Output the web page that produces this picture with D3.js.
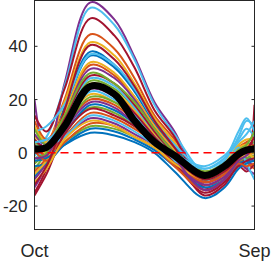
<!DOCTYPE html>
<html>
<head>
<meta charset="utf-8">
<script src="https://cdn.jsdelivr.net/npm/d3@7"></script>
<style>
  body { margin: 0; background: #fff; }
  svg { display: block; }
  text { font-family: "Liberation Sans", Arial, sans-serif; fill: #262626; }
</style>
</head>
<body>
<div id="chart"></div>
<script>
// month positions (0 = Oct ... 11 = Sep) where each curve is sampled
const knots = [0, 0.6, 1.5, 2.8, 4, 5, 6, 7, 8.5, 9.5, 10.2, 10.6, 11];

const xTickValues = [0, 11];
const xTickLabels = ["Oct", "Sep"];
const yTickValues = [-20, 0, 20, 40];

const palette = ["#0072BD", "#D95319", "#EDB120", "#7E2F8E", "#77AC30", "#4DBEEE", "#A2142F"];

// individual years
const series = [
  [3, 1, 17, 38, 33, 24, 12, 3, -9, -5, 1, 3, 4],
  [-4, 2, 20, 44.5, 39, 28, 14, 5, -11, -7, 0, 2, 3],
  [6, 4, 19, 41.5, 36.5, 26, 13, 4, -10, -6, 1, 2, 1],
  [20, -3, 26, 56.5, 50, 36, 19, 8, -12, -9, -3, -1, 0],
  [-6, 0, 12, 27, 24, 17, 8, 0, -8, -4, 2, 3, 4],
  [2, 6, 25, 54.5, 48, 35, 18, 7, -7, -3, 6, 12, 10],
  [14, 8, 24, 50.5, 44, 32, 16, 6, -13, -10, -2, -6, 18],
  [-9, -3, 15, 36.5, 32, 23, 11, 2, -10, -7, -1, 1, 2],
  [12, 5, 15, 33, 29, 21, 10, 1, -9, -6, 2, 4, 6],
  [-2, 1, 15, 34, 30, 21, 10, 1, -8, -4, 3, 5, 5],
  [-13, -5, 13, 31.5, 28, 20, 9, 0, -11, -8, -2, -3, -5],
  [4, 2, 8, 17, 15, 10, 4, -3, -9, -6, 0, 1, 0],
  [8, 10, 18, 37, 33, 24, 12, 3, -6, -2, 8, 13, 8],
  [-15, -6, 16, 40.5, 35, 25, 12, 2, -14, -10, -4, -2, -1],
  [0, -1, 7, 18, 16, 11, 5, -3, -10, -7, -2, 0, 1],
  [-7, -2, 9, 20, 18, 12, 5, -3, -12, -9, -3, -4, -6],
  [10, 4, 12, 26, 23, 16, 7, -1, -7, -4, 2, 3, 2],
  [-10, -4, 8, 19, 17, 11, 5, -3, -10, -6, -1, -2, -3],
  [2, -2, 4, 10, 9, 6, 2, -4, -10, -7, -3, -2, -1],
  [-3, 3, 13, 28, 25, 17, 8, 0, -5, -1, 5, 9, 6],
  [5, 2, 13, 29, 26, 18, 8, -1, -16, -12, -5, -7, -4],
  [-5, -4, 3, 9, 8, 5, 1, -5, -13, -10, -4, -3, -2],
  [3, -1, 6, 15, 13, 9, 4, -3, -11, -8, -2, 0, 3],
  [-8, -3, 10, 22, 19, 13, 6, -2, -9, -5, 1, 0, -2],
  [7, 3, 6, 13, 11, 7, 3, -4, -12, -9, -4, -6, -8],
  [-4, 0, 9, 21, 19, 13, 6, -2, -9, -6, 0, 2, 1],
  [-1, 2, 6, 14, 12, 8, 3, -3, -8, -5, 2, -4, -10],
  [-16, -8, 7, 16.5, 14, 10, 4, -4, -15, -11, -5, -3, -2],
  [-3, -2, 3, 7.5, 6.5, 4, 0, -7, -17, -13, -6, -4, -3],
  [1, -3, 4, 11, 10, 6, 2, -5, -14, -10, -4, -5, -4],
  [-11, -6, 5, 12, 10, 6, 2, -4, -10, -7, -2, -1, 0],
  [-2, -1, 11, 24, 21, 14, 6, -2, -14, -10, -3, -1, 2],
  [9, 3, 14, 30, 26, 19, 9, 0, -7, -4, 1, 3, 8],
  [4, 5, 10, 23, 20, 14, 6, -1, -6, -2, 4, 7, 12],
  [-12, -5, 11, 25, 22, 15, 6, -2, -10, -7, -2, 1, 6]
];

// thick black average curve
const meanCurve = [1.5, 2, 10, 25, 22, 12, 4, -1, -8.5, -5, -0.5, 1, 1.5];

const width = 273, height = 263;
const plot = {left: 34.5, right: 254.5, top: 0.5, bottom: 229.5};

const svg = d3.select("#chart").append("svg")
    .attr("width", width)
    .attr("height", height);

const x = d3.scaleLinear().domain([0, 11]).range([plot.left, plot.right]);
const y = d3.scaleLinear().domain([-28.8, 57.2]).range([plot.bottom, plot.top]);

svg.append("clipPath").attr("id", "clip")
  .append("rect")
    .attr("x", plot.left).attr("y", plot.top)
    .attr("width", plot.right - plot.left)
    .attr("height", plot.bottom - plot.top);

const line = d3.line()
    .x((d, i) => x(knots[i]))
    .y(d => y(d))
    .curve(d3.curveCatmullRom.alpha(0.5));

const g = svg.append("g").attr("clip-path", "url(#clip)");

g.selectAll(".year")
  .data(series)
  .join("path")
    .attr("class", "year")
    .attr("d", line)
    .attr("fill", "none")
    .attr("stroke", (d, i) => palette[i % palette.length])
    .attr("stroke-width", 2);

// zero reference
g.append("line")
    .attr("x1", plot.left).attr("x2", plot.right)
    .attr("y1", y(0)).attr("y2", y(0))
    .attr("stroke", "#FF0000")
    .attr("stroke-width", 1.5)
    .attr("stroke-dasharray", "8,5");

g.append("path")
    .datum(meanCurve)
    .attr("d", line)
    .attr("fill", "none")
    .attr("stroke", "#000")
    .attr("stroke-width", 7);

// box + ticks (MATLAB style, ticks pointing inward)
const axisColor = "#262626";
svg.append("rect")
    .attr("x", plot.left).attr("y", plot.top)
    .attr("width", plot.right - plot.left)
    .attr("height", plot.bottom - plot.top)
    .attr("fill", "none")
    .attr("stroke", axisColor)
    .attr("stroke-width", 1);

svg.selectAll(".ytick")
  .data(yTickValues)
  .join("g")
    .attr("class", "ytick")
    .each(function (v) {
        const t = d3.select(this);
        t.append("line").attr("x1", plot.left).attr("x2", plot.left + 3)
            .attr("y1", y(v)).attr("y2", y(v)).attr("stroke", axisColor);
        t.append("line").attr("x1", plot.right).attr("x2", plot.right - 3)
            .attr("y1", y(v)).attr("y2", y(v)).attr("stroke", axisColor);
        t.append("text")
            .attr("x", plot.left - 7)
            .attr("y", y(v) + 6)
            .attr("text-anchor", "end")
            .attr("font-size", 17)
            .text(v);
    });

svg.selectAll(".xlabel")
  .data(xTickValues)
  .join("text")
    .attr("class", "xlabel")
    .attr("x", d => x(d))
    .attr("y", 257)
    .attr("text-anchor", "middle")
    .attr("font-size", 18)
    .text((d, i) => xTickLabels[i]);
</script>
</body>
</html>
